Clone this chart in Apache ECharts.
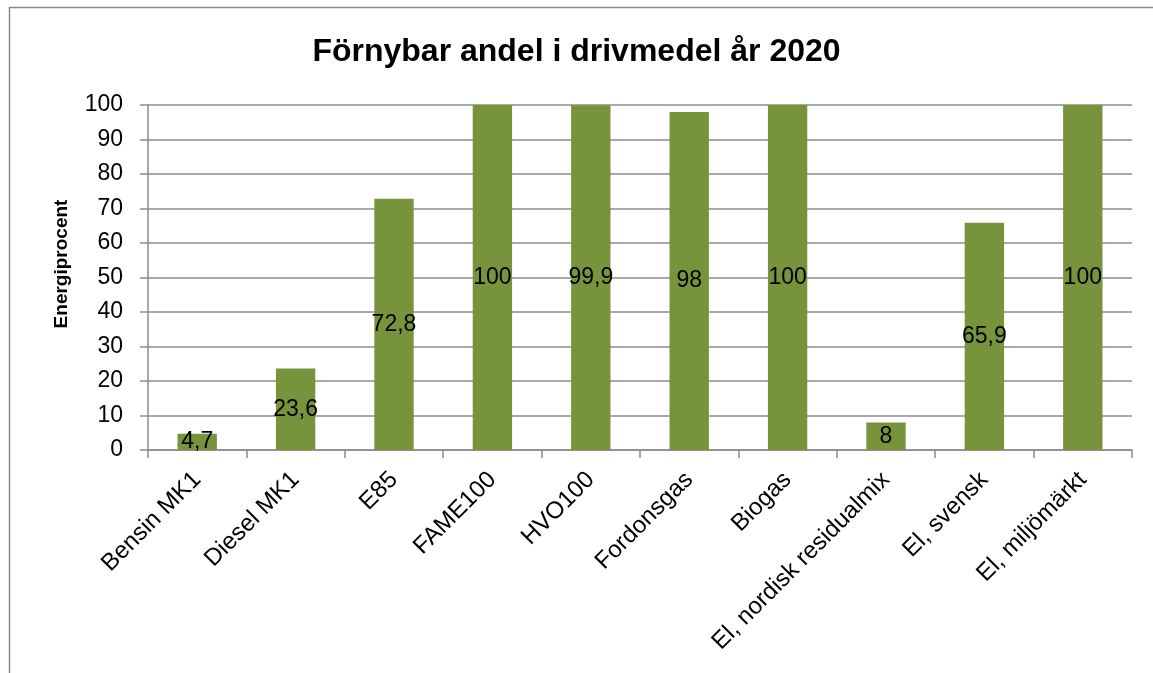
<!DOCTYPE html>
<html>
<head>
<meta charset="utf-8">
<script src="https://cdn.jsdelivr.net/npm/echarts@6/dist/echarts.min.js"></script>
<style>
  html, body { margin: 0; padding: 0; background: #fff; }
  #chart { width: 1153px; height: 673px; }
</style>
</head>
<body>
<div id="chart"></div>
<script>
// Förnybar andel i drivmedel år 2020
const categories = ['Bensin MK1', 'Diesel MK1', 'E85', 'FAME100', 'HVO100', 'Fordonsgas', 'Biogas', 'El, nordisk residualmix', 'El, svensk', 'El, miljömärkt'];
const shareValues = [4.7, 23.6, 72.8, 100, 99.9, 98, 100, 8, 65.9, 100];
const yTicks = { min: 0, max: 100, interval: 10 };

const FONT = '"Liberation Sans", "Noto Sans", sans-serif';
const GRID_COLOR = '#8c8c8c';

const chart = echarts.init(document.getElementById('chart'));

chart.setOption({
  backgroundColor: '#fff',
  animation: false,
  title: {
    text: 'Förnybar andel i drivmedel år 2020',
    left: 'center',
    top: 31,
    textStyle: { fontFamily: FONT, fontSize: 32, fontWeight: 'bold', color: '#000' }
  },
  graphic: [
    // ram runt diagrammet (bara vänster- och överkant syns)
    {
      type: 'rect',
      shape: { x: 9.5, y: 7.5, width: 1200, height: 700 },
      style: { fill: 'none', stroke: '#8c8c8c', lineWidth: 1.5 },
      silent: true
    },
    // y-axelns titel
    {
      type: 'text',
      x: 62,
      y: 264,
      rotation: Math.PI / 2,
      style: {
        text: 'Energiprocent',
        fontFamily: FONT,
        fontSize: 19,
        fontWeight: 'bold',
        fill: '#000',
        align: 'center',
        verticalAlign: 'middle'
      }
    }
  ],
  grid: { left: 148, right: 21, top: 105, bottom: 223, containLabel: false },
  xAxis: {
    type: 'category',
    data: categories,
    axisLine: { lineStyle: { color: GRID_COLOR, width: 1.5 } },
    axisTick: { show: true, length: 8, alignWithLabel: false, lineStyle: { color: GRID_COLOR, width: 1.5 } },
    axisLabel: {
      rotate: 45,
      interval: 0,
      margin: 26,
      fontFamily: FONT,
      fontSize: 24,
      color: '#000'
    }
  },
  yAxis: {
    type: 'value',
    min: yTicks.min,
    max: yTicks.max,
    interval: yTicks.interval,
    axisLine: { show: true, lineStyle: { color: GRID_COLOR, width: 1.5 } },
    axisTick: { show: true, length: 8, lineStyle: { color: GRID_COLOR, width: 1.5 } },
    axisLabel: { margin: 25, fontFamily: FONT, fontSize: 23, color: '#000' },
    splitLine: { lineStyle: { color: GRID_COLOR, width: 1.5 } }
  },
  series: [
    {
      type: 'bar',
      data: shareValues,
      barWidth: '40%',
      itemStyle: { color: '#77933C' },
      label: {
        show: true,
        position: 'inside',
        fontFamily: FONT,
        fontSize: 23,
        color: '#000',
        formatter: (p) => String(p.value).replace('.', ',')
      }
    }
  ]
});
</script>
</body>
</html>
